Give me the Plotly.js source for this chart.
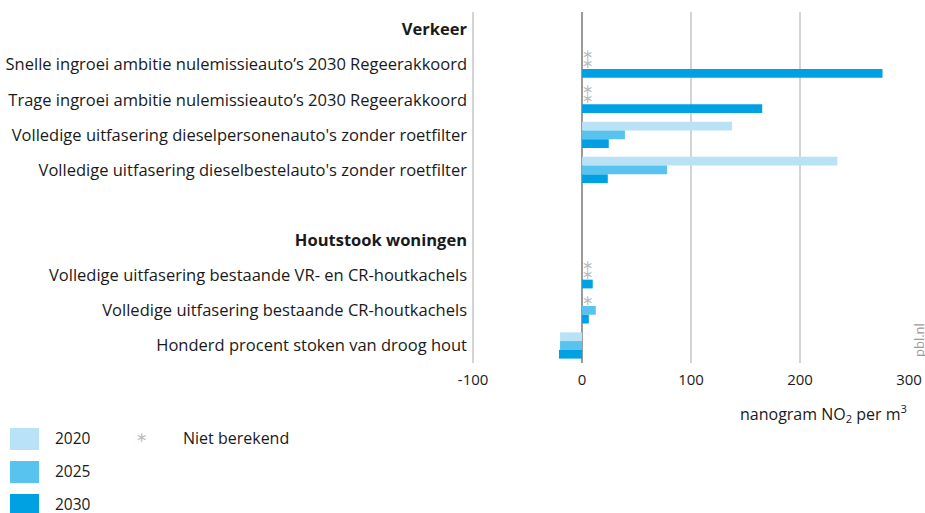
<!DOCTYPE html>
<html>
<head>
<meta charset="utf-8">
<script src="https://cdn.plot.ly/plotly-3.0.1.min.js"></script>
<style>html,body{margin:0;padding:0;background:#fff;}#chart{width:925px;height:513px;}</style>
</head>
<body>
<div id="chart"></div>
<script>
// ---- data ----
const NB = 'niet berekend'; // value not computed (shown as *)
const categories = [
  '<b>Verkeer</b>',
  'Snelle ingroei ambitie nulemissieauto’s 2030 Regeerakkoord',
  'Trage ingroei ambitie nulemissieauto’s 2030 Regeerakkoord',
  "Volledige uitfasering dieselpersonenauto's zonder roetfilter",
  "Volledige uitfasering dieselbestelauto's zonder roetfilter",
  ' ',
  '<b>Houtstook woningen</b>',
  'Volledige uitfasering bestaande VR- en CR-houtkachels',
  'Volledige uitfasering bestaande CR-houtkachels',
  'Honderd procent stoken van droog hout'
];
const seriesNames = ['2020', '2025', '2030'];
const values2020 = [null, NB, NB, 137.7, 234.3, null, null, NB, NB, -20.2];
const values2025 = [null, NB, NB, 39.3, 77.9, null, null, NB, 12.6, -20.2];
const values2030 = [null, 275.7, 165.3, 24.5, 23.6, null, null, 9.8, 6.2, -21.2];
const xTickVals = [-100, 0, 100, 200, 300];
const xTickText = ['-100', '0', '100', '200', '300'];
const axisTitle = 'nanogram NO<sub>2</sub> per m<sup>3</sup>';
const notComputedLabel = 'Niet berekend';
const starSymbol = '∗';
const sourceLabel = 'pbl.nl';

// ---- style ----
const colors = ['#b9e2f7', '#58c3ee', '#00a1e3'];
const FONT = '"Open Sans", Lato, sans-serif';
const STARFONT = '"DejaVu Sans", sans-serif';
const STARCOLOR = '#bdbdbd';
const TXT = '#1a1a1a';
const BARGAP = 0.25;
const W = 925, H = 513;
const M = {l: 472, r: 16, t: 12, b: 150};
const PW = W - M.l - M.r, PH = H - M.t - M.b;
const px2x = p => (p - M.l) / PW;
const py2y = p => (H - M.b - p) / PH;

const allValues = [values2020, values2025, values2030];
const rows = categories.map((_, i) => i);

const traces = allValues.map((vals, s) => ({
  type: 'bar',
  orientation: 'h',
  name: seriesNames[s],
  y: rows,
  x: vals.map(v => (typeof v === 'number' ? v : null)),
  marker: {color: colors[s], line: {width: 0}},
  hoverinfo: 'x+name'
}));

// asterisks for values not computed, placed at the slot of their bar in the group
const slot = (1 - BARGAP) / seriesNames.length;
const astX = [], astY = [];
allValues.forEach((vals, s) => {
  vals.forEach((v, i) => {
    if (v === NB) { astX.push(0); astY.push(i + (s - (seriesNames.length - 1) / 2) * slot); }
  });
});
traces.push({
  type: 'scatter', mode: 'text', x: astX, y: astY,
  text: astX.map(() => starSymbol), textposition: 'middle right',
  textfont: {family: STARFONT, size: 14, color: STARCOLOR},
  hoverinfo: 'skip', showlegend: false
});

// custom legend
const shapes = [];
const annotations = [];
seriesNames.forEach((n, s) => {
  const top = 428 + s * 33;
  shapes.push({type: 'rect', xref: 'paper', yref: 'paper',
    x0: px2x(10), x1: px2x(39), y0: py2y(top), y1: py2y(top + 22),
    fillcolor: colors[s], line: {width: 0}});
  annotations.push({xref: 'paper', yref: 'paper', x: px2x(53), y: py2y(top + 10),
    xanchor: 'left', yanchor: 'middle', showarrow: false, text: n, height: 16,
    font: {family: FONT, size: 15.5, color: TXT}});
});
annotations.push({xref: 'paper', yref: 'paper', x: px2x(142), y: py2y(437),
  xanchor: 'center', yanchor: 'middle', showarrow: false, text: starSymbol,
  font: {family: STARFONT, size: 14, color: STARCOLOR}});
annotations.push({xref: 'paper', yref: 'paper', x: px2x(181), y: py2y(438),
  xanchor: 'left', yanchor: 'middle', showarrow: false, text: notComputedLabel,
  font: {family: FONT, size: 16, color: TXT}});
annotations.push({xref: 'paper', yref: 'paper', x: px2x(909), y: py2y(413),
  xanchor: 'right', yanchor: 'middle', showarrow: false, text: axisTitle,
  font: {family: FONT, size: 16, color: TXT}});
annotations.push({xref: 'paper', yref: 'paper', x: px2x(919), y: py2y(340),
  xanchor: 'center', yanchor: 'middle', showarrow: false, text: sourceLabel,
  textangle: -90, font: {family: FONT, size: 13, color: '#9a9a9a'}});

const layout = {
  width: W, height: H,
  margin: M,
  paper_bgcolor: '#fff', plot_bgcolor: '#fff',
  barmode: 'group', bargap: BARGAP, bargroupgap: 0,
  showlegend: false,
  font: {family: FONT, size: 16, color: TXT},
  xaxis: {
    range: [-101, 300], tickvals: xTickVals, ticktext: xTickText,
    showgrid: true, gridcolor: '#d4d4d4', gridwidth: 1.3,
    zeroline: true, zerolinecolor: '#9a9a9a', zerolinewidth: 1.6,
    showline: false, ticks: '', ticklabelstandoff: 6,
    tickfont: {family: FONT, size: 15, color: TXT},
    fixedrange: true
  },
  yaxis: {
    range: [categories.length - 0.5, -0.5], tickvals: rows, ticktext: categories,
    showgrid: false, zeroline: false, showline: false, ticks: '', ticklabelstandoff: 4,
    tickfont: {family: FONT, size: 16.5, color: TXT}, fixedrange: true
  },
  shapes: shapes,
  annotations: annotations
};

Plotly.newPlot('chart', traces, layout, {displayModeBar: false, staticPlot: true});
</script>
</body>
</html>
